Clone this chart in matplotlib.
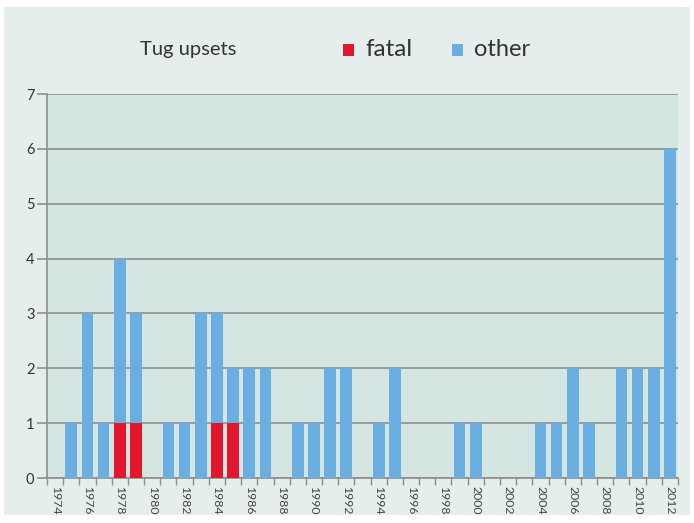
import numpy as np
import matplotlib.pyplot as plt
from matplotlib.patches import Rectangle

# data
years = list(range(1974, 2013))
fatal = [0, 0, 0, 0, 1, 1, 0, 0, 0, 0, 1, 1, 0, 0, 0, 0, 0, 0, 0,
         0, 0, 0, 0, 0, 0, 0, 0, 0, 0, 0, 0, 0, 0, 0, 0, 0, 0, 0, 0]
other = [0, 1, 3, 1, 3, 2, 0, 1, 1, 3, 2, 1, 2, 2, 0, 1, 1, 2, 2,
         0, 1, 2, 0, 0, 0, 1, 1, 0, 0, 0, 1, 1, 2, 1, 0, 2, 2, 2, 6]

RED = '#e3172c'
BLUE = '#6aaee2'

plt.rcParams['font.family'] = ['Lato', 'DejaVu Sans']

fig = plt.figure(figsize=(6.94, 5.23), dpi=100, facecolor='white')
fig.patches.append(Rectangle((4/694, 8/523), 686/694, 508/523, transform=fig.transFigure,
                             facecolor='#e5eeec', edgecolor='none', zorder=-10))

ax = fig.add_axes([47/694, 45/523, 631/694, 384/523])
ax.set_facecolor('#d5e5e2')

x = np.arange(len(years))
ax.bar(x, fatal, width=0.72, color=RED, zorder=3)
ax.bar(x, other, width=0.72, bottom=fatal, color=BLUE, zorder=3)

ax.set_xlim(-0.5, len(years) - 0.5)
ax.set_ylim(0, 7)
ax.set_yticks(range(8))
ax.yaxis.grid(True, color='#8c8f8e', lw=1.2, zorder=1)
ax.tick_params(axis='y', length=7, width=1.2, color='#8c8f8e', labelsize=10.5,
               labelcolor='#333333', pad=2)

# ticks at category boundaries, labels under every other year
ax.set_xticks(np.arange(-0.5, len(years), 1.0))
ax.set_xticklabels([])
ax.tick_params(axis='x', which='major', length=5, width=1, color='#8c8f8e')
ax.set_xticks(x[::2], minor=True)
ax.set_xticklabels([str(y) for y in years[::2]], minor=True, rotation=-90,
                   fontsize=8.8, color='#444444')
ax.tick_params(axis='x', which='minor', length=0, pad=6)

for s in ['top', 'right']:
    ax.spines[s].set_visible(False)
for s in ['left', 'bottom']:
    ax.spines[s].set_color('#8c8f8e')
    ax.spines[s].set_linewidth(1.2)

# header with legend
fig.text(140/694, 1 - 50/523, 'Tug upsets', fontsize=14.5, color='#333333', va='center')
fig.patches.append(Rectangle((343/694, 1 - 56/523), 11/694, 12/523,
                             transform=fig.transFigure, facecolor=RED, edgecolor='none'))
fig.text(365/694, 1 - 49/523, 'fatal', fontsize=17.5, color='#333333', va='center')
fig.patches.append(Rectangle((452/694, 1 - 56/523), 11/694, 12/523,
                             transform=fig.transFigure, facecolor=BLUE, edgecolor='none'))
fig.text(474/694, 1 - 49/523, 'other', fontsize=17, color='#333333', va='center')

fig.savefig('out.png', dpi=100, facecolor=fig.get_facecolor())
